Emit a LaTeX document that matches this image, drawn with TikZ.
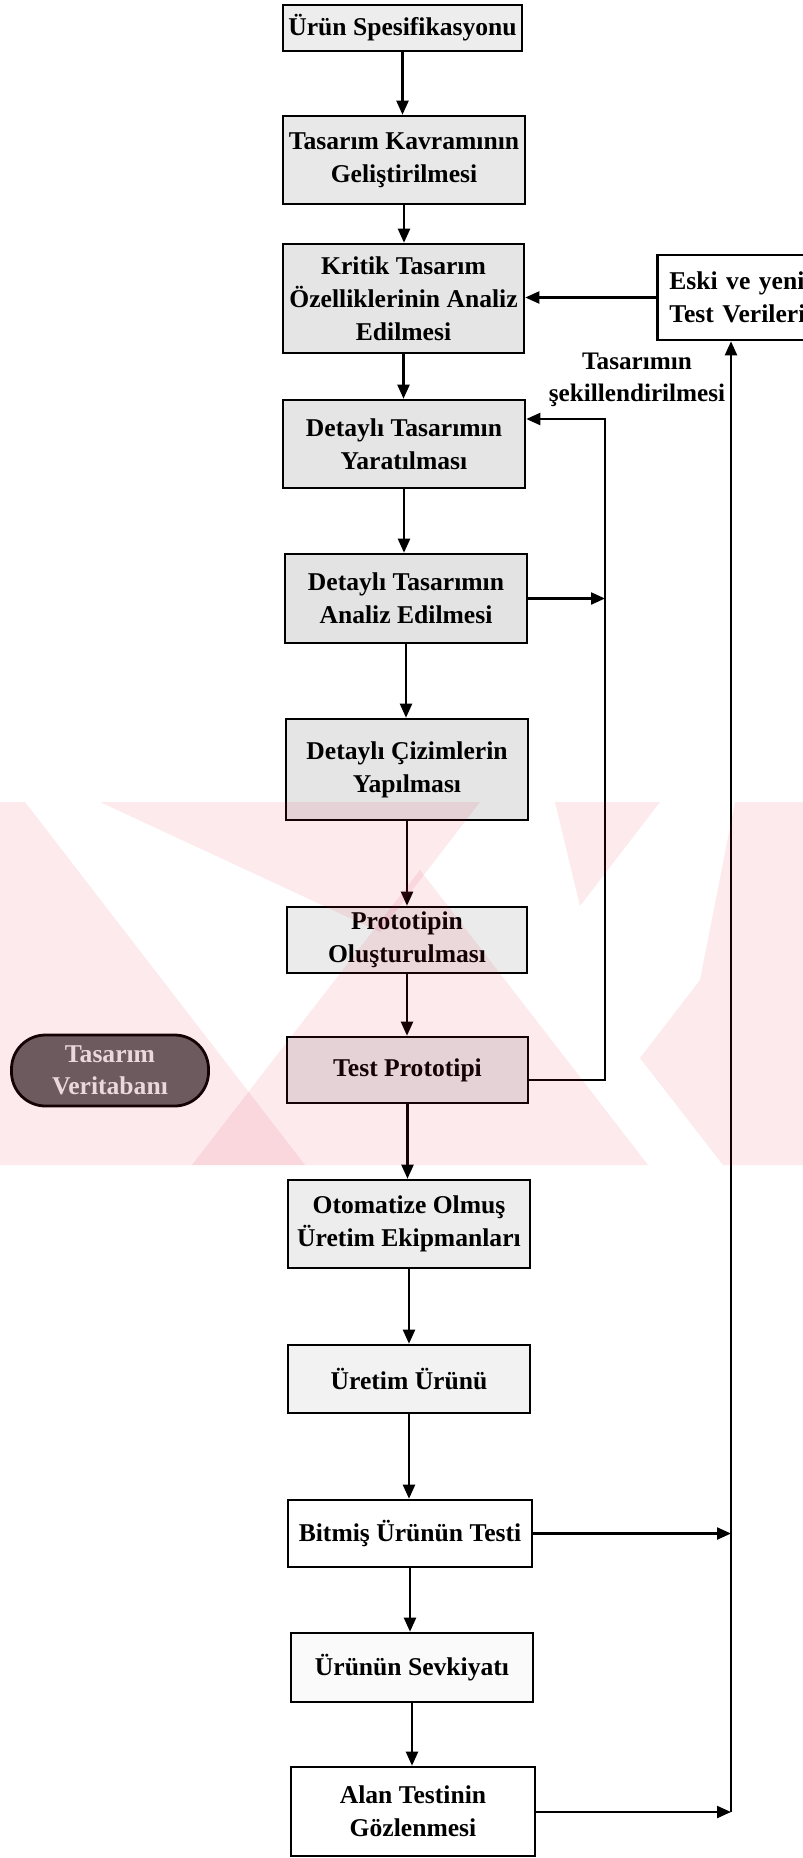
\documentclass[tikz,border=0pt]{standalone}
\usepackage{fontspec}
\setmainfont{Liberation Serif}
\usetikzlibrary{arrows.meta}

\definecolor{wmark}{RGB}{225,25,65}

\tikzset{
  stepbox/.style={draw=black, line width=1.3pt, inner sep=0pt, align=center,
    font=\fontsize{12.8}{16.5}\selectfont\bfseries},
  flow/.style={line width=1.1pt, -{Triangle[length=7pt,width=6pt]}},
  dbnode/.style={draw=black, line width=1.4pt, fill=black!62, rounded corners=17pt,
    inner sep=0pt, align=center, text=black!8,
    font=\fontsize{12.8}{16}\selectfont\bfseries},
  lbl/.style={align=center, inner sep=0pt, font=\fontsize{12.6}{16}\selectfont\bfseries},
  wm/.style={fill=wmark, fill opacity=0.09, draw=none}
}

% box from its corners (x1,y1) to (x2,y2), in pixel units
\newcommand\placebox[7]{%
  \node[stepbox, fill=#7, minimum width={(#4-#2)*0.5pt}, minimum height={(#5-#3)*0.5pt}]
    (#1) at ({(#2+#4)/2},{(#3+#5)/2}) {#6};}

\begin{document}
\begin{tikzpicture}[x=0.5pt, y=-0.5pt]
\useasboundingbox (0,0) rectangle (803,1858);
\clip (0,0) rectangle (803,1858);
\fill[white] (0,0) rectangle (803,1858);

% process boxes
\placebox{b1}{283}{5}{522}{51}{Ürün Spesifikasyonu}{black!7}
\placebox{b2}{283}{116}{525}{204}{Tasarım Kavramının\\Geliştirilmesi}{black!9}
\placebox{b3}{283}{244}{524}{353}{\fontsize{12.8}{13.6}\selectfont Kritik Tasarım\\Özelliklerinin Analiz\\Edilmesi}{black!10}
\placebox{b4}{283}{400}{525}{488}{\fontsize{12.8}{15}\selectfont Detaylı Tasarımın\\Yaratılması}{black!10}
\placebox{b5}{285}{554}{527}{643}{Detaylı Tasarımın\\Analiz Edilmesi}{black!11}
\placebox{b6}{286}{719}{528}{820}{Detaylı Çizimlerin\\Yapılması}{black!10}
\placebox{b7}{287}{907}{527}{973}{Prototipin\\Oluşturulması}{black!8}
\placebox{b8}{287}{1037}{528}{1103}{Test Prototipi}{black!10}
\placebox{b9}{288}{1180}{530}{1268}{Otomatize Olmuş\\Üretim Ekipmanları}{black!7}
\placebox{b10}{288}{1345}{530}{1413}{Üretim Ürünü}{black!5}
\placebox{b11}{288}{1500}{532}{1567}{Bitmiş Ürünün Testi}{white}
\placebox{b12}{291}{1633}{533}{1702}{Ürünün Sevkiyatı}{black!2}
\placebox{b13}{291}{1767}{535}{1856}{Alan Testinin\\Gözlenmesi}{white}

% test data box, running past the right edge
\node[stepbox, fill=white, minimum width=90pt, minimum height=42.5pt, anchor=west,
      align=left, text width=78pt]
  (eski) at (656,297.5) {Eski ve yeni\\Test Verileri};

% design database
\node[dbnode, minimum width=98.5pt, minimum height=35.5pt] (db) at (110,1070.5)
  {Tasarım\\Veritabanı};

% main flow
\foreach \a/\b in {b1/b2,b2/b3,b3/b4,b4/b5,b5/b6,b6/b7,b7/b8,b8/b9,b9/b10,b10/b11,b11/b12,b12/b13}
  \draw[flow] (\a.south) -- (\a.south |- \b.north);

% design shaping loop
\coordinate (lp) at (605,419);
\coordinate (lb) at (605,1080);
\draw[flow] (b5.east) -- (b5.east -| lp);
\draw[flow] (lb -| b8.east) -- (lb) -- (lp) -- (lp -| b4.east);
\node[lbl] (lab) at (637,380) {Tasarımın\\şekillendirilmesi};

% test data feedback
\coordinate (rb) at (731,1812);
\draw[flow] (eski.west) -- (eski.west -| b3.east);
\draw[flow] (rb) -- (rb |- eski.south);
\draw[flow] (b11.east) -- (b11.east -| rb);
\draw[flow] (b13.east |- rb) -- (rb);

% watermark
\begin{scope}
  \clip (0,802) rectangle (803,1165);
  \fill[wm] (0,802) -- (25,802) -- (305,1165) -- (0,1165) -- cycle;
  \fill[wm] (100,802) -- (480,802) -- (380,932) -- cycle;
  \fill[wm] (555,802) -- (660,802) -- (580,906) -- cycle;
  \fill[wm] (192,1165) -- (420,870) -- (648,1165) -- cycle;
  \fill[wm] (735,802) -- (803,802) -- (803,1165) -- (723,1165) -- (640,1058) -- (700,980) -- cycle;
\end{scope}
\end{tikzpicture}
\end{document}
